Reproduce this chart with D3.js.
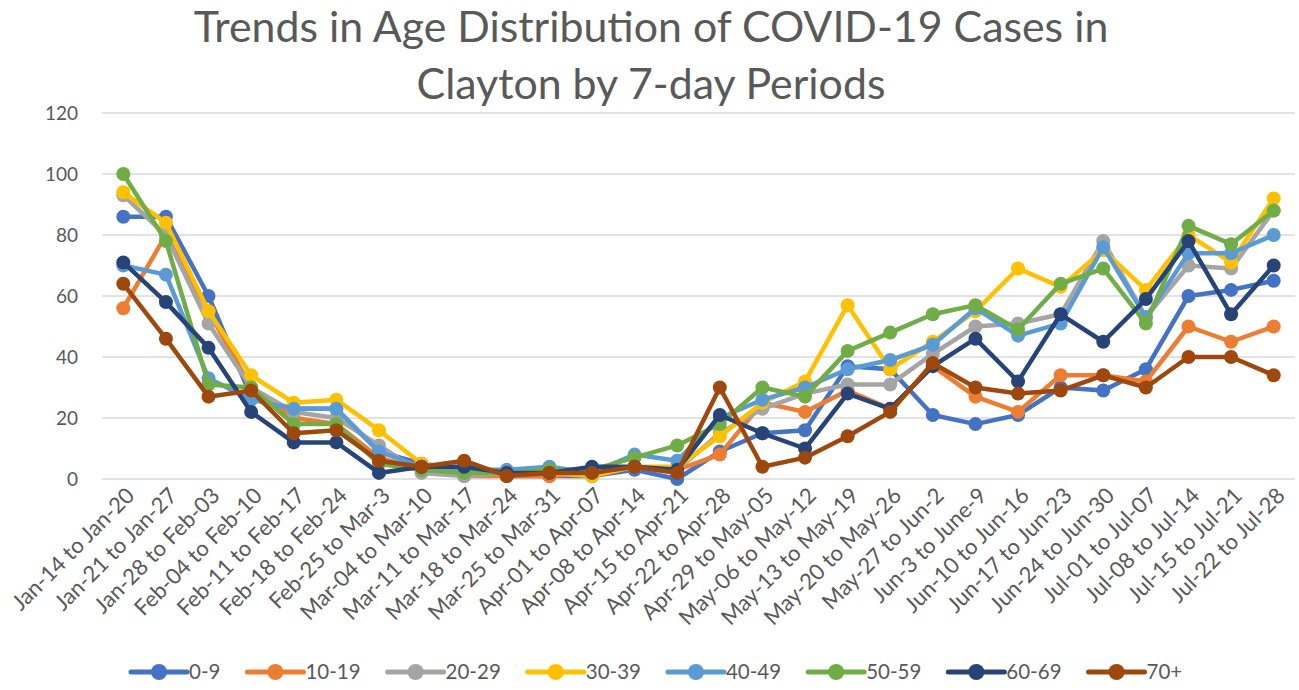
<!DOCTYPE html>
<html>
<head>
<meta charset="utf-8">
<title>Trends in Age Distribution of COVID-19 Cases in Clayton</title>
<script src="https://d3js.org/d3.v7.min.js"></script>
<style>
  body { margin: 0; background: #fff; }
  text { font-family: Lato, "Noto Sans", sans-serif; fill: #595959; }
</style>
</head>
<body>
<script>
var width = 1299, height = 690;

// data
var periods = ["Jan-14 to Jan-20", "Jan-21 to Jan-27", "Jan-28 to Feb-03", "Feb-04 to Feb-10",
    "Feb-11 to Feb-17", "Feb-18 to Feb-24", "Feb-25 to Mar-3", "Mar-04 to Mar-10",
    "Mar-11 to Mar-17", "Mar-18 to Mar-24", "Mar-25 to Mar-31", "Apr-01 to Apr-07",
    "Apr-08 to Apr-14", "Apr-15 to Apr-21", "Apr-22 to Apr-28", "Apr-29 to May-05",
    "May-06 to May-12", "May-13 to May-19", "May-20 to May-26", "May-27 to Jun-2",
    "Jun-3 to June-9", "Jun-10 to Jun-16", "Jun-17 to Jun-23", "Jun-24 to Jun-30",
    "Jul-01 to Jul-07", "Jul-08 to Jul-14", "Jul-15 to Jul-21", "Jul-22 to Jul-28"];

var ageGroups = ["0-9", "10-19", "20-29", "30-39", "40-49", "50-59", "60-69", "70+"];
var groupColors = ["#4472C4", "#ED7D31", "#A5A5A5", "#FFC000", "#5B9BD5", "#70AD47", "#264478", "#9E480E"];

var age0_9   = [86, 86, 60, 27, 23, 23, 9, 5, 3, 1, 1, 1, 3, 0, 9, 15, 16, 37, 36, 21, 18, 21, 30, 29, 36, 60, 62, 65];
var age10_19 = [56, 80, 55, 30, 20, 18, 7, 3, 1, 1, 1, 2, 4, 3, 8, 25, 22, 29, 23, 37, 27, 22, 34, 34, 32, 50, 45, 50];
var age20_29 = [93, 80, 51, 30, 22, 20, 11, 2, 1, 2, 3, 2, 4, 3, 15, 23, 28, 31, 31, 41, 50, 51, 54, 78, 53, 70, 69, 88];
var age30_39 = [94, 84, 55, 34, 25, 26, 16, 5, 3, 2, 2, 1, 4, 4, 14, 25, 32, 57, 36, 45, 55, 69, 63, 75, 62, 80, 71, 92];
var age40_49 = [70, 67, 33, 26, 23, 23, 9, 4, 3, 3, 4, 2, 8, 6, 20, 26, 30, 36, 39, 44, 56, 47, 51, 76, 53, 74, 74, 80];
var age50_59 = [100, 78, 31, 30, 18, 18, 5, 3, 2, 2, 3, 3, 7, 11, 18, 30, 27, 42, 48, 54, 57, 49, 64, 69, 51, 83, 77, 88];
var age60_69 = [71, 58, 43, 22, 12, 12, 2, 4, 4, 2, 2, 4, 4, 3, 21, 15, 10, 28, 23, 37, 46, 32, 54, 45, 59, 78, 54, 70];
var age70p   = [64, 46, 27, 29, 15, 16, 6, 4, 6, 1, 2, 2, 4, 2, 30, 4, 7, 14, 22, 38, 30, 28, 29, 34, 30, 40, 40, 34];

var seriesValues = [age0_9, age10_19, age20_29, age30_39, age40_49, age50_59, age60_69, age70p];
var yTicks = [0, 20, 40, 60, 80, 100, 120];

var titleLines = ["Trends in Age Distribution of COVID-19 Cases in", "Clayton by 7-day Periods"];

var series = ageGroups.map(function(g, i) {
    return { name: g, color: groupColors[i], values: seriesValues[i] };
});

var margin = { top: 113, right: 4, bottom: 211, left: 102 };
var plotW = width - margin.left - margin.right;
var plotH = height - margin.top - margin.bottom;

var svg = d3.select("body").append("svg")
    .attr("width", width)
    .attr("height", height);

// title, sized to fit the reference width
var title = svg.append("g");
titleLines.forEach(function(line, i) {
    title.append("text")
        .attr("x", 651)
        .attr("y", 42 + i * 57)
        .attr("text-anchor", "middle")
        .attr("font-size", 40)
        .text(line);
});
var firstW = title.select("text").node().getComputedTextLength();
title.selectAll("text").attr("font-size", 40 * 915 / firstW);

var g = svg.append("g").attr("transform", "translate(" + margin.left + "," + margin.top + ")");

var x = d3.scalePoint().domain(periods).range([0, plotW]).padding(0.5);
var y = d3.scaleLinear().domain([0, 120]).range([plotH, 0]);

// gridlines
g.append("g")
    .selectAll("line")
    .data(yTicks)
    .join("line")
    .attr("x1", 0).attr("x2", plotW)
    .attr("y1", function(d) { return y(d); })
    .attr("y2", function(d) { return y(d); })
    .attr("stroke", "#D9D9D9")
    .attr("stroke-width", 1.5);

// y axis labels
var yAxis = g.append("g")
    .call(d3.axisLeft(y).tickValues(yTicks).tickSize(0).tickPadding(24));
yAxis.select(".domain").remove();
yAxis.selectAll("text")
    .attr("font-size", 19)
    .attr("fill", "#595959")
    .style("font-family", "Lato, 'Noto Sans', sans-serif");

// x axis labels
var xAxis = g.append("g")
    .attr("transform", "translate(0," + plotH + ")")
    .call(d3.axisBottom(x).tickSize(0).tickPadding(0));
xAxis.select(".domain").remove();
xAxis.selectAll("text")
    .attr("font-size", 22)
    .attr("fill", "#595959")
    .style("font-family", "Lato, 'Noto Sans', sans-serif")
    .attr("text-anchor", "end")
    .attr("dy", 0)
    .attr("transform", "translate(12,18) rotate(-45)");

// lines and markers
var line = d3.line()
    .x(function(d, i) { return x(periods[i]); })
    .y(function(d) { return y(d); });

series.forEach(function(s) {
    var sg = g.append("g");
    sg.append("path")
        .datum(s.values)
        .attr("d", line)
        .attr("fill", "none")
        .attr("stroke", s.color)
        .attr("stroke-width", 4.5)
        .attr("stroke-linejoin", "round");
    sg.selectAll("circle")
        .data(s.values)
        .join("circle")
        .attr("cx", function(d, i) { return x(periods[i]); })
        .attr("cy", function(d) { return y(d); })
        .attr("r", 7)
        .attr("fill", s.color);
});

// legend
var legend = svg.append("g").attr("transform", "translate(131,672)");
var lx = 0;
series.forEach(function(s, i) {
    var item = legend.append("g").attr("transform", "translate(" + lx + ",0)");
    item.append("line")
        .attr("x1", 0).attr("x2", 56)
        .attr("stroke", s.color)
        .attr("stroke-width", 5)
        .attr("stroke-linecap", "round");
    item.append("circle")
        .attr("cx", 28).attr("r", 8)
        .attr("fill", s.color);
    var t = item.append("text")
        .attr("x", 58)
        .attr("dy", "0.35em")
        .attr("font-size", 20.5)
        .text(s.name);
    lx += 58 + t.node().getComputedTextLength() + 27;
});
</script>
</body>
</html>
